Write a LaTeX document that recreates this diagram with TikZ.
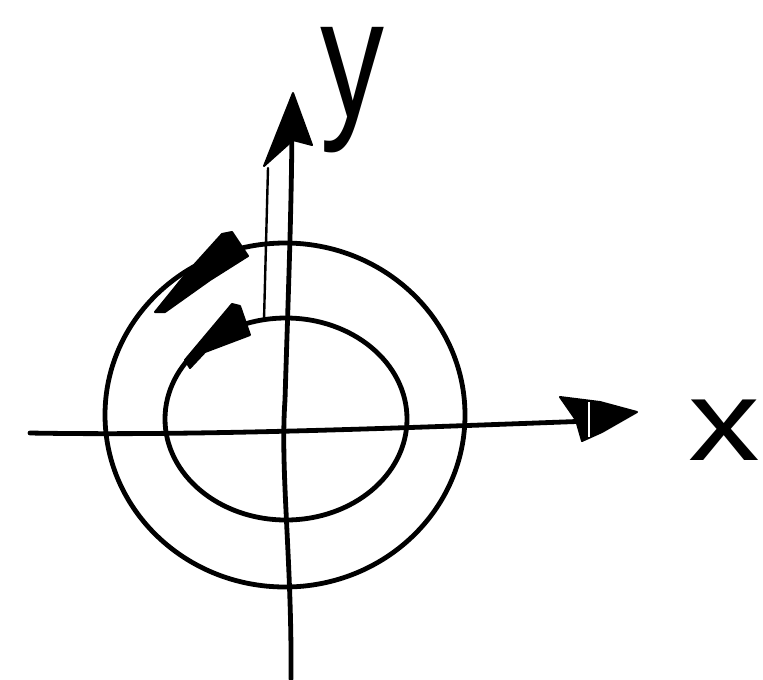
\documentclass[tikz,border=0pt]{standalone}
\usepackage{fontspec}
\setmainfont{Liberation Sans}
\begin{document}
\begin{tikzpicture}[x=0.75pt,y=-0.75pt,
  stroke/.style={line width=3.6pt,line cap=round,line join=round},
  thinstroke/.style={line width=1.8pt,line cap=round},
  head/.style={fill=black,draw=black,line width=1.5pt,line join=round}]
\useasboundingbox (0,0) rectangle (763,679);
% axis end points
\coordinate (xs) at (30,433);
\coordinate (xe) at (590,421);
\coordinate (ys) at (291,679);
\coordinate (ye) at (292,110);
% circles
\draw[stroke] (285,415) ellipse [x radius=180,y radius=172];
\draw[stroke] (286,419) ellipse [x radius=121,y radius=101];
% axes
\draw[stroke] (xs) .. controls (200,436) and (400,428) .. (xe);
\draw[stroke] (ys) .. controls (292,560) and (280,470) .. (285,400) .. controls (288,300) and (292,200) .. (ye);
\draw[thinstroke] (264,320) -- (268,168);
% arrowheads
\draw[head] (560,397) -- (600,402) -- (637,412) -- (602,432) -- (582,441) -- (576,420) -- cycle;
\draw[white,line width=1.2pt] (589,402) -- (589,437);
\draw[head] (293,93) -- (312,145) -- (293,140) -- (264,166) -- cycle;
\draw[head] (222,234) -- (232,232) -- (248,256) -- (210,280) -- (165,312) -- (155,312) -- (185,275) -- cycle;
\draw[head] (232,304) -- (240,306) -- (250,335) -- (205,352) -- (190,368) -- (185,360) -- cycle;
% labels
\node[inner sep=0pt,anchor=base,xscale=1.25,font=\fontsize{86}{86}\selectfont,text height=0.53em,text depth=0pt] (xl) at (724,460) {x};
\node[inner sep=0pt,anchor=base,xscale=0.75,font=\fontsize{128}{128}\selectfont,text height=0.53em,text depth=0.21em] (yl) at (352,117) {y};
\end{tikzpicture}
\end{document}
